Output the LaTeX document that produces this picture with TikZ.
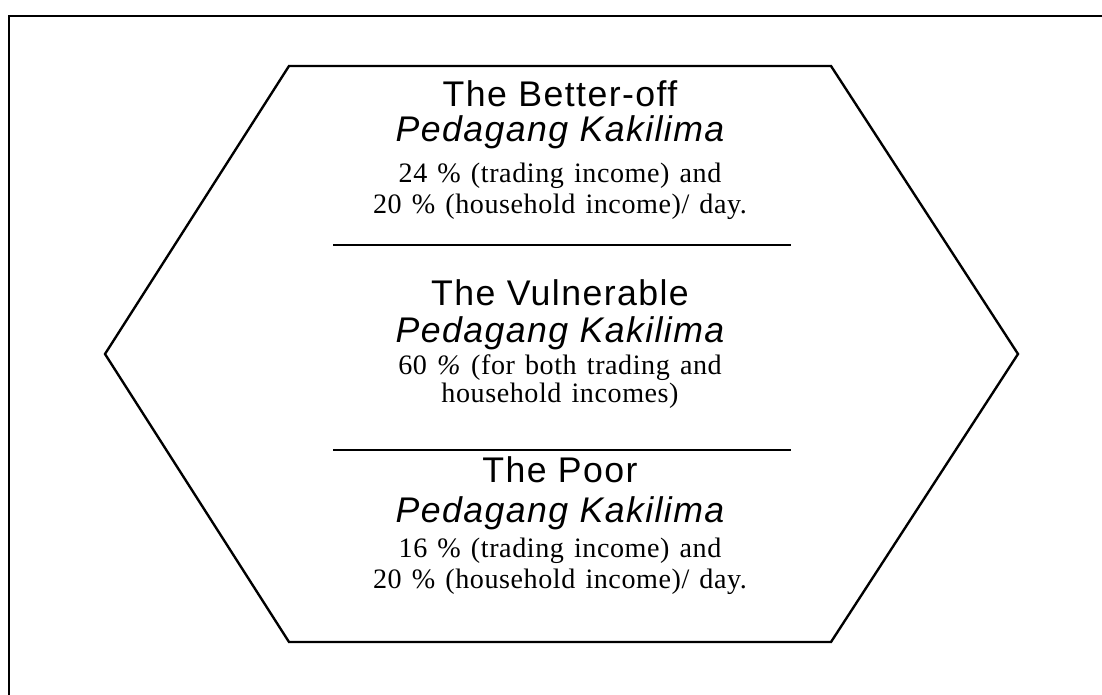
\documentclass[tikz,border=0pt]{standalone}
\usepackage{fontspec}
\setmainfont{Liberation Serif}
\newfontfamily\tiersans[LetterSpace=4]{Liberation Sans}
\newfontfamily\tierserif[LetterSpace=2]{Liberation Serif}
\newcommand\sharefont{\tierserif\fontsize{16}{18}\selectfont
  \spaceskip 0.36em plus 0.1em\relax}

\tikzset{
  frame/.style={line width=1.35pt},
  tier title/.style={font=\tiersans\fontsize{20.3}{24}\selectfont, anchor=base, inner sep=0pt},
  tier name/.style={font=\tiersans\itshape\fontsize{20.3}{24}\selectfont, anchor=base, inner sep=0pt},
  tier share/.style={font=\sharefont, anchor=base, inner sep=0pt},
}

\begin{document}
\begin{tikzpicture}[x=0.02cm, y=-0.02cm, line join=miter]
  \useasboundingbox (0,0) rectangle (1102,695);

  % outer frame (runs off at right and bottom)
  \draw[frame] (9,700) -- (9,16) -- (1110,16);

  % the hexagon
  \coordinate (nw) at (289,66);
  \coordinate (ne) at (831,66);
  \coordinate (e)  at (1018,354);
  \coordinate (se) at (831,642);
  \coordinate (sw) at (289,642);
  \coordinate (w)  at (105,354);
  \draw[frame] (nw) -- (ne) -- (e) -- (se) -- (sw) -- (w) -- cycle;

  % lines between the tiers
  \coordinate (cut1l) at (333,245);
  \coordinate (cut1r) at (791,245);
  \coordinate (cut2l) at (333,450);
  \coordinate (cut2r) at (791,450);
  \draw[line width=1pt] (cut1l) -- (cut1r);
  \draw[line width=1pt] (cut2l) -- (cut2r);

  % top tier
  \node[tier title] (better)  at (560,107) {The Better-off};
  \node[tier name]  (betterk) at (560,142) {Pedagang Kakilima};
  \node[tier share] (better1) at (560,183) {24 \% (trading income) and};
  \node[tier share] (better2) at (560,214) {20 \% (household income)/ day.};

  % middle tier
  \node[tier title] (vuln)  at (560,306) {The Vulnerable};
  \node[tier name]  (vulnk) at (560,343) {Pedagang Kakilima};
  \node[tier share] (vuln1) at (560,375) {60 \textit{\%} (for both trading and};
  \node[tier share] (vuln2) at (560,403) {household incomes)};

  % bottom tier
  \node[tier title] (poor)  at (560,483) {The Poor};
  \node[tier name]  (poork) at (560,522) {Pedagang Kakilima};
  \node[tier share] (poor1) at (560,558) {16 \% (trading income) and};
  \node[tier share] (poor2) at (560,588) {20 \% (household income)/ day.};
\end{tikzpicture}
\end{document}
